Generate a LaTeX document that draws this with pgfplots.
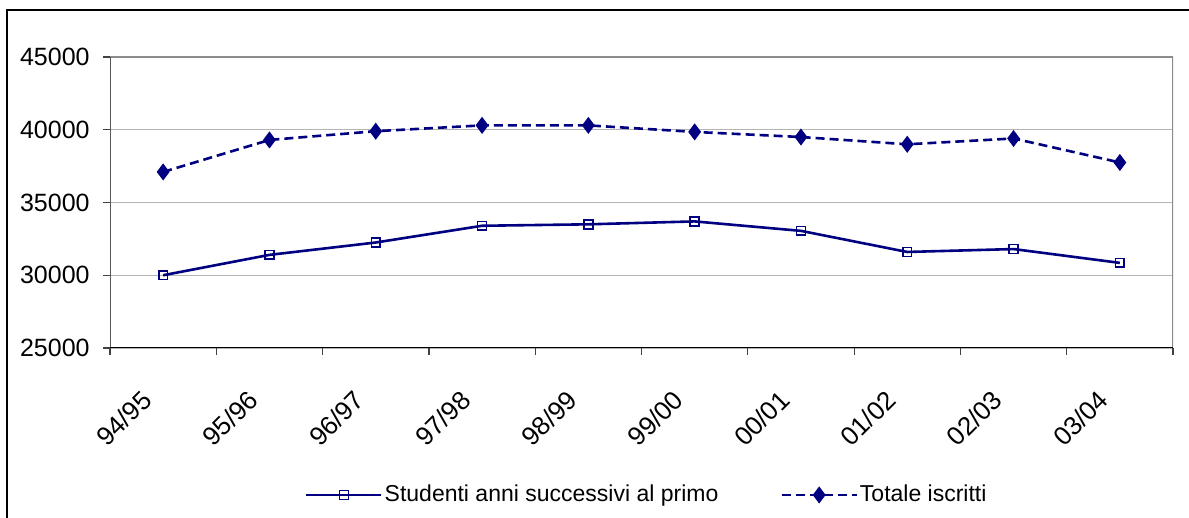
\documentclass[border=0pt]{standalone}
\usepackage{pgfplots}
\pgfplotsset{compat=1.18}
\usepackage{fontspec}
\setmainfont{Liberation Sans}
\definecolor{navy}{HTML}{000080}
\definecolor{gridgray}{HTML}{B4B4B4}
\definecolor{bordergray}{HTML}{8C8C8C}
\begin{document}
\begin{tikzpicture}
\useasboundingbox (0,0) rectangle (594.5pt,259pt);
\fill[white] (0,0) rectangle (594.5pt,259pt);
\draw[line width=0.75pt] (3.5pt,-1pt) -- (3.5pt,254pt) -- (596pt,254pt);
\begin{axis}[
  at={(55pt,85pt)}, anchor=south west,
  scale only axis, width=531.5pt, height=145.5pt,
  xmin=-0.5, xmax=9.5, ymin=25000, ymax=45000,
  ytick={25000,30000,35000,40000,45000},
  scaled y ticks=false,
  ymajorgrids, grid style={gridgray, line width=0.6pt},
  axis line style={draw=none},
  tick align=outside, xtick pos=bottom, ytick pos=left,
  major tick length=3.5pt,
  tick style={line width=0.6pt, black!75},
  xtick={-0.5,0.5,1.5,2.5,3.5,4.5,5.5,6.5,7.5,8.5,9.5},
  xticklabels={,,,,,,,,,,},
  extra x ticks={0,1,2,3,4,5,6,7,8,9},
  extra x tick labels={94/95,95/96,96/97,97/98,98/99,99/00,00/01,01/02,02/03,03/04},
  extra x tick style={major tick length=0pt},
  ticklabel style={font=\fontsize{12.5}{14}\selectfont},
  xticklabel style={font=\fontsize{13}{15}\selectfont, xshift=-8pt, yshift=-23.5pt, rotate=45, anchor=east, inner sep=0pt},
  yticklabel style={anchor=east, inner sep=0pt, xshift=-6.5pt},
  /pgf/number format/assume math mode=true,
  /pgf/number format/set thousands separator={},
  legend columns=2,
  legend style={draw=none, fill=none, at={(axis description cs:0.505,-0.505)}, anchor=center,
    font=\fontsize{11.5}{13}\selectfont,
    /tikz/every even column/.append style={column sep=30pt},
    nodes={inner sep=1pt}},
  legend image code/.code={\draw[mark repeat=2, mark phase=2, #1] plot coordinates {(0pt,0pt) (18.75pt,0pt) (37.5pt,0pt)};},
]
\addplot[navy, line width=1.3pt, mark=square, mark size=2.2pt, mark options={solid, fill=white, line width=0.8pt}]
  coordinates {(0,30000) (1,31400) (2,32250) (3,33400) (4,33500) (5,33700) (6,33050) (7,31600) (8,31800) (9,30850)};
\addlegendentry{Studenti anni successivi al primo}
\addplot[navy, line width=1.3pt, dash pattern=on 4.5pt off 2.5pt, mark=diamond*, mark size=3.2pt, mark options={solid}]
  coordinates {(0,37100) (1,39300) (2,39900) (3,40300) (4,40300) (5,39850) (6,39500) (7,39000) (8,39400) (9,37750)};
\addlegendentry{Totale iscritti}
\draw[bordergray, line width=1.3pt] (rel axis cs:0,1) -- (rel axis cs:1,1) -- (rel axis cs:1,0);
\draw[black!65, line width=1pt] (rel axis cs:0,0) -- (rel axis cs:0,1);
\draw[black, line width=0.8pt] (rel axis cs:0,0) -- (rel axis cs:1,0);
\end{axis}
\end{tikzpicture}
\end{document}
